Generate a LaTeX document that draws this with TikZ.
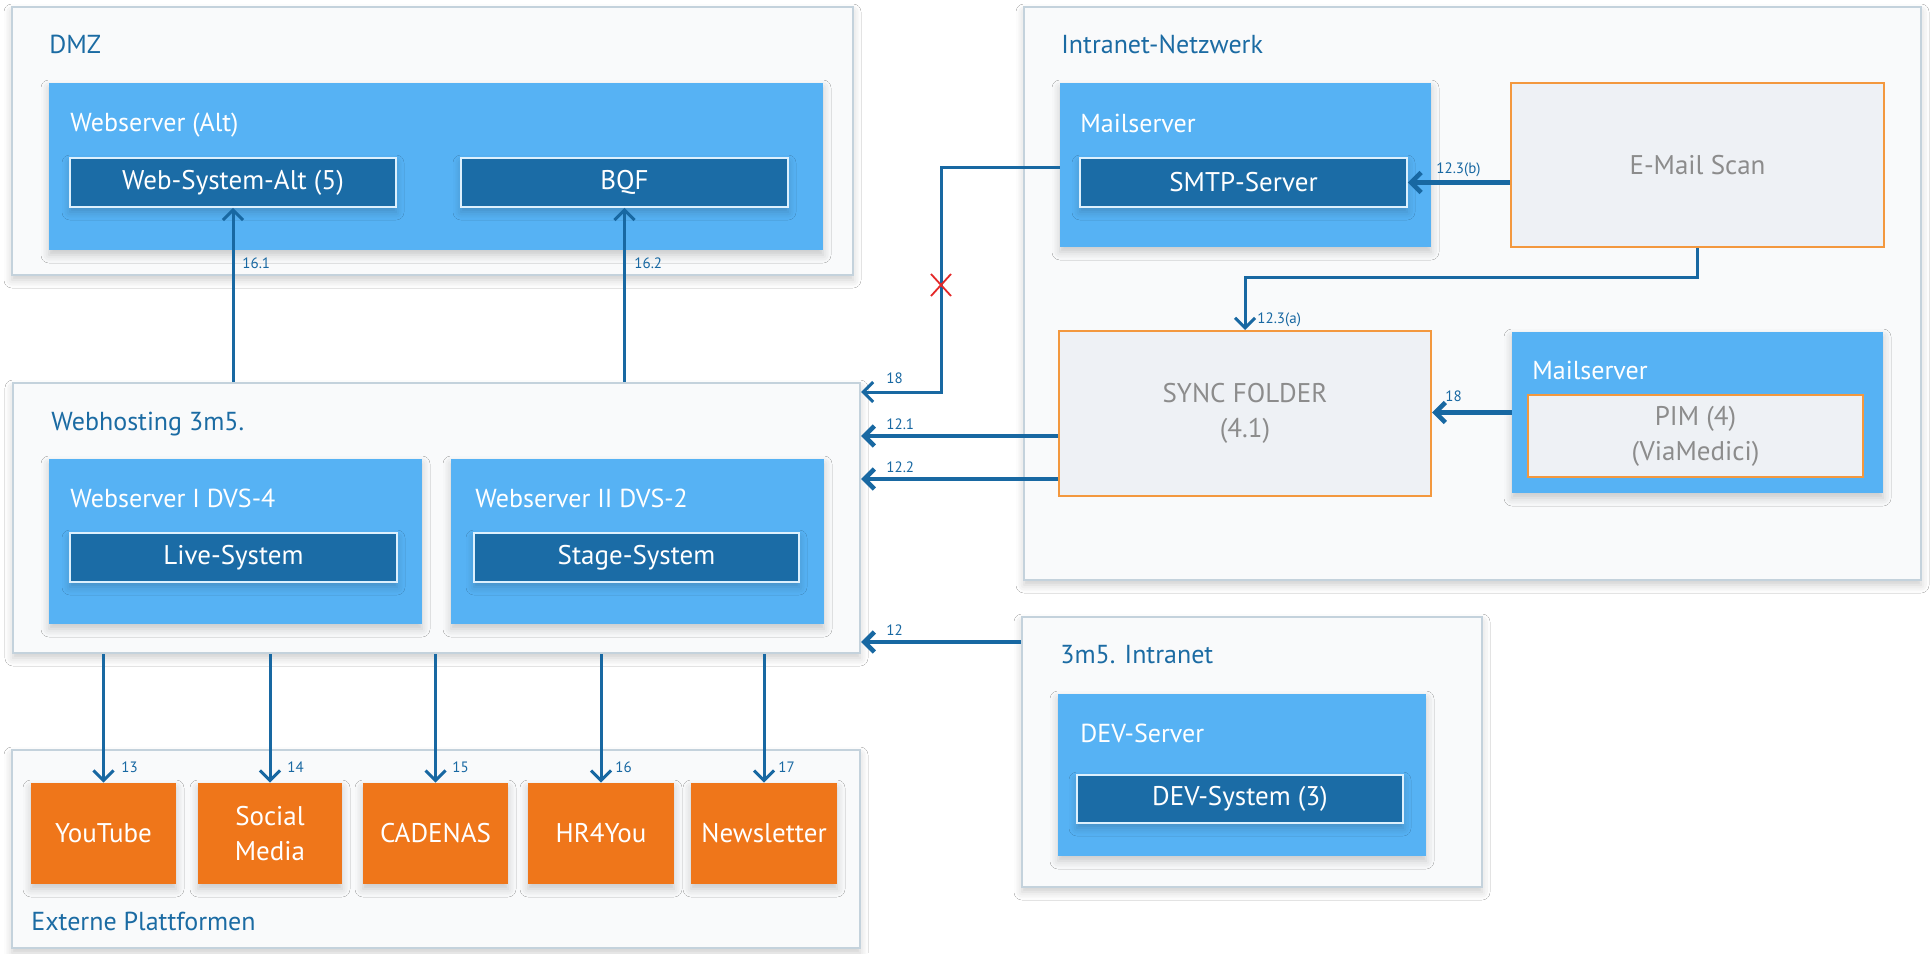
\documentclass[tikz,border=0pt]{standalone}
\usepackage{fontspec}
\setmainfont{PT Sans}
\usetikzlibrary{arrows.meta,shadows.blur,calc}

\definecolor{grpline}{RGB}{196,210,220}
\definecolor{grpfill}{RGB}{249,250,251}
\definecolor{srvblue}{RGB}{86,178,244}
\definecolor{sysdark}{RGB}{27,108,166}
\definecolor{platorange}{RGB}{239,118,26}
\definecolor{orangeline}{RGB}{243,152,62}
\definecolor{lightfill}{RGB}{238,241,245}
\definecolor{graytext}{RGB}{140,140,140}
\definecolor{titleblue}{RGB}{27,107,163}
\definecolor{flowblue}{RGB}{24,104,162}
\definecolor{cutred}{RGB}{228,40,40}

% box from its corners (x1,y1)-(x2,y2), in picture units of half a point
\newcommand\placebox[6]{%
  \node[#1, minimum width={(#5-#3)*0.5pt}, minimum height={(#6-#4)*0.5pt}]
    (#2) at ({(#3+#5)/2},{(#4+#6)/2})}

\tikzset{
  softshadow/.style={blur shadow={shadow xshift=0pt, shadow yshift=-2.5pt,
      shadow blur radius=4pt, shadow opacity=20}},
  group/.style={draw=grpline, line width=1pt, fill=grpfill, inner sep=0pt, softshadow},
  server/.style={fill=srvblue, inner sep=0pt, softshadow},
  system/.style={fill=sysdark, draw=white!80!srvblue, line width=0.9pt, text=white,
      font=\fontsize{13.5}{16}\selectfont, inner sep=0pt, softshadow},
  platform/.style={fill=platorange, text=white, align=center, inner sep=0pt,
      font=\fontsize{13.5}{17.5}\selectfont, softshadow},
  store/.style={fill=lightfill, draw=orangeline, line width=1pt, text=graytext,
      align=center, inner sep=0pt, font=\fontsize{13.5}{17.5}\selectfont},
  title/.style={anchor=base west, text=titleblue, inner sep=0pt,
      font=\fontsize{13}{16}\selectfont},
  srvtitle/.style={anchor=base west, text=white, inner sep=0pt,
      font=\fontsize{13}{16}\selectfont},
  flow/.style={draw=flowblue, line width=1.5pt, -{Straight Barb[length=5pt,width=10pt]}},
  thickflow/.style={flow, line width=2.3pt},
  num/.style={anchor=base west, text=flowblue, inner sep=0pt,
      font=\fontsize{7.5}{9}\selectfont},
  xmark/.style={draw=cutred, line width=0.9pt},
}

\begin{document}
\begin{tikzpicture}[x=0.5pt,y=-0.5pt]
\useasboundingbox[fill=white] (0,0) rectangle (1930,953);

% ---------- outer zones ----------
\placebox{group}{dmz}{12}{7}{853}{275} {};
\placebox{group}{intra}{1024}{7}{1921}{580} {};
\placebox{group}{web}{13}{383}{860}{653} {};
\placebox{group}{intra3}{1022}{617}{1482}{887} {};
\placebox{group}{ext}{12}{750}{860}{948} {};

\node[title] (tdmz)   at (49,53)   {DMZ};
\node[title] (tintra) at (1061,53) {Intranet-Netzwerk};
\node[title] (tweb)   at (51,430)  {Webhosting 3m5.};
\node[title] (tint3)  at (1060,663){3m5. Intranet};
\node[title] (text)   at (31,930)  {Externe Plattformen};

% ---------- servers ----------
\placebox{server}{wsalt}{49}{83}{823}{250} {};
\placebox{server}{mail1}{1060}{83}{1431}{247} {};
\placebox{server}{mail2}{1512}{332}{1883}{493} {};
\placebox{server}{ws1}{49}{459}{422}{624} {};
\placebox{server}{ws2}{451}{459}{824}{624} {};
\placebox{server}{dev}{1058}{694}{1426}{856} {};

\node[srvtitle] (twsalt) at (70,131)   {Webserver (Alt)};
\node[srvtitle] (tmail1) at (1080,132) {Mailserver};
\node[srvtitle] (tmail2) at (1532,379) {Mailserver};
\node[srvtitle] (tws1)   at (70,507)   {Webserver I DVS-4};
\node[srvtitle] (tws2)   at (475,507)  {Webserver II DVS-2};
\node[srvtitle] (tdev)   at (1080,742) {DEV-Server};

% ---------- systems ----------
\placebox{system}{wsa}{70}{158}{396}{207} {Web-System-Alt (5)};
\placebox{system}{bqf}{461}{158}{788}{207} {BQF};
\placebox{system}{smtp}{1080}{158}{1407}{207} {SMTP-Server};
\placebox{system}{live}{70}{533}{397}{582} {Live-System};
\placebox{system}{stage}{474}{533}{799}{582} {Stage-System};
\placebox{system}{devsys}{1077}{775}{1403}{823} {DEV-System (3)};

% ---------- stores ----------
\placebox{store}{scan}{1511}{83}{1884}{247} {E-Mail Scan};
\placebox{store}{sync}{1059}{331}{1431}{496} {SYNC FOLDER\\(4.1)};
\placebox{store}{pim}{1528}{395}{1863}{477} {PIM (4)\\(ViaMedici)};

% ---------- external platforms ----------
\placebox{platform}{yt}{31}{783}{176}{884} {YouTube};
\placebox{platform}{sm}{198}{783}{342}{884} {Social\\Media};
\placebox{platform}{cad}{363}{783}{508}{884} {CADENAS};
\placebox{platform}{hr}{528}{783}{674}{884} {HR4You};
\placebox{platform}{nl}{691}{783}{837}{884} {Newsletter};

% ---------- bend points ----------
\coordinate (k1) at (941,167);
\coordinate (k2) at (941,392);
\coordinate (k3) at (1245,277);
\coordinate (cut) at (941,285);
\coordinate (r1) at (0,436);
\coordinate (r2) at (0,479);
\coordinate (r3) at (0,642);

% ---------- connectors ----------
\draw[flow] (wsa.south |- web.north) -- (wsa.south);
\draw[flow] (bqf.south |- web.north) -- (bqf.south);
\draw[flow] (mail1.west |- k1) -- (k1) -- (k2) -- (k2 -| web.east);
\draw[xmark] ($(cut)+(-10,-11)$) -- ($(cut)+(10,11)$)
             ($(cut)+(-10,11)$) -- ($(cut)+(10,-11)$);
\draw[thickflow] (scan.west |- smtp.east) -- (smtp.east);
\draw[flow] (scan.south) |- (k3) -- (sync.north);
\draw[thickflow] (mail2.west) -- (mail2.west -| sync.east);
\draw[thickflow] (sync.west |- r1) -- (web.east |- r1);
\draw[thickflow] (sync.west |- r2) -- (web.east |- r2);
\draw[thickflow] (intra3.west |- r3) -- (web.east |- r3);
\foreach \p in {yt,sm,cad,hr,nl}
  \draw[flow] (\p.north |- web.south) -- (\p.north);

% ---------- connector numbers ----------
\node[num] (n161) at (242,268)  {16.1};
\node[num] (n162) at (634,268)  {16.2};
\node[num] (n18a) at (886,383)  {18};
\node[num] (n121) at (886,429)  {12.1};
\node[num] (n122) at (886,472)  {12.2};
\node[num] (n12)  at (886,635)  {12};
\node[num] (n123b) at (1436,173) {12.3(b)};
\node[num] (n123a) at (1257,323) {12.3(a)};
\node[num] (n18b) at (1445,401) {18};
\node[num] (n13) at (121,772) {13};
\node[num] (n14) at (287,772) {14};
\node[num] (n15) at (452,772) {15};
\node[num] (n16) at (615,772) {16};
\node[num] (n17) at (778,772) {17};
\end{tikzpicture}
\end{document}
